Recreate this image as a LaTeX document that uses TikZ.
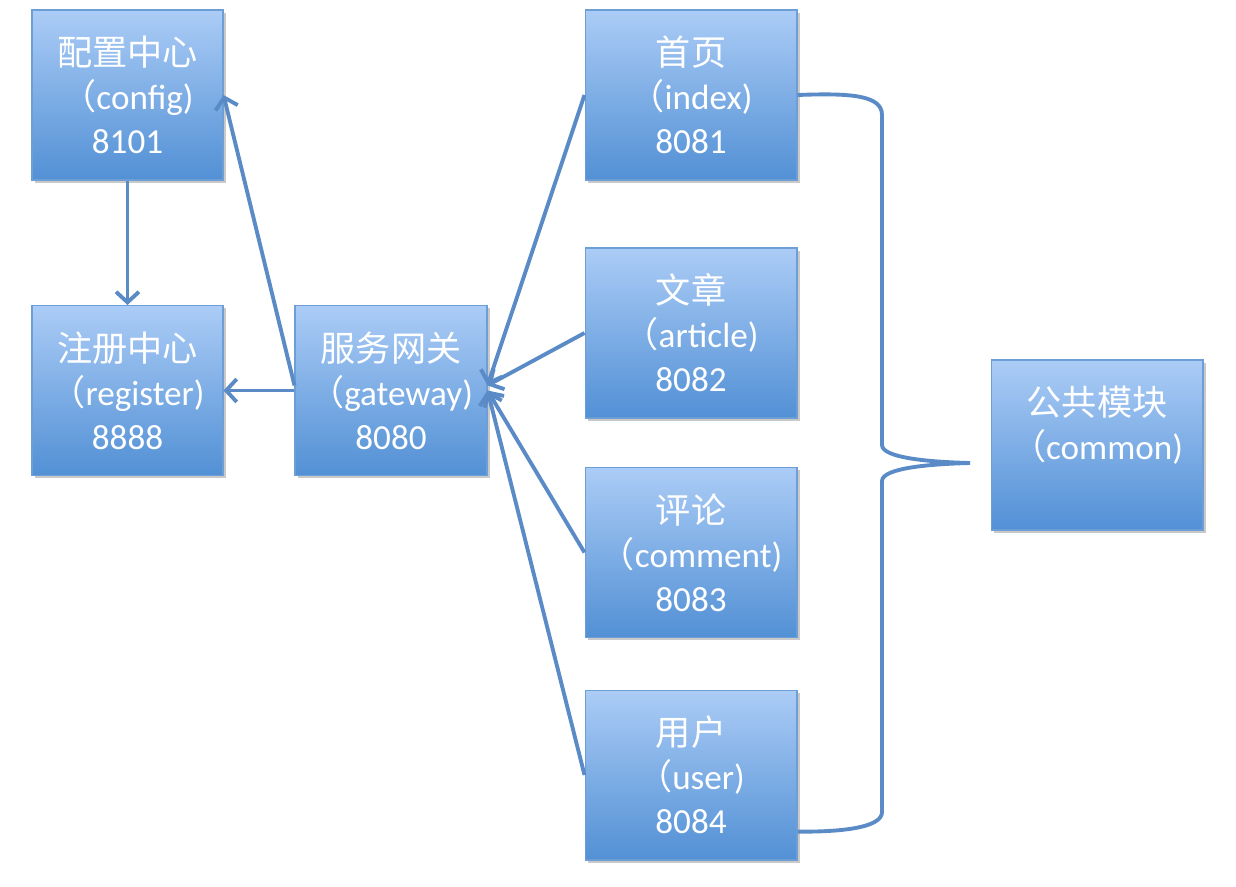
\documentclass[tikz,border=0pt]{standalone}
\usepackage{fontspec}
\setmainfont{Carlito}
\newfontfamily\cjk{Noto Sans CJK SC}
\usetikzlibrary{arrows.meta,shadows}
\definecolor{boxtop}{HTML}{ABCCF6}
\definecolor{boxbot}{HTML}{5290D5}
\definecolor{boxline}{HTML}{6E9ED6}
\definecolor{linkblue}{HTML}{5A8BC6}

\begin{document}
\begin{tikzpicture}[x=.02cm,y=-.02cm,
  box/.style={draw=boxline,line width=.6pt,top color=boxtop,bottom color=boxbot,
    minimum height=3.4cm,inner sep=0pt,text=white,align=center,
    font=\fontsize{20}{25}\selectfont,
    drop shadow={shadow xshift=1.5pt,shadow yshift=-1.5pt,opacity=.3,fill=black!70}},
  link/.style={draw=linkblue,line width=2.2pt,-{Straight Barb[length=6pt,width=13pt]}},
  brace/.style={draw=linkblue,line width=2.2pt}]
  \useasboundingbox (0,0) rectangle (1236,886);
  % left column and gateway
  \node[box,minimum width=3.82cm] (config) at (127.5,95) {{\cjk 配置中心}\\{\cjk （}config)\\8101};
  \node[box,minimum width=3.82cm] (register) at (127.5,390.5) {{\cjk 注册中心}\\{\cjk （}register)\\8888};
  \node[box,minimum width=3.84cm] (gateway) at (391,390.5) {{\cjk 服务网关}\\{\cjk （}gateway)\\8080};
  % services
  \node[box,minimum width=4.24cm] (index) at (691,95) {{\cjk 首页}\\{\cjk （}index)\\8081};
  \node[box,minimum width=4.24cm] (article) at (691,333) {{\cjk 文章}\\{\cjk （}article)\\8082};
  \node[box,minimum width=4.24cm] (comment) at (691,552.5) {{\cjk 评论}\\{\cjk （}comment)\\8083};
  \node[box,minimum width=4.24cm] (user) at (691,775) {{\cjk 用户}\\{\cjk （}user)\\8084};
  \node[box,minimum width=4.24cm] (common) at (1097,445) {{\cjk 公共模块}\\{\cjk （}common)\\\mbox{}};
  % arrows
  \draw[link] (config.south) -- (register.north);
  \draw[link] (gateway.west) -- (register.east);
  \draw[link] (gateway.177) -- (config.east);
  \draw[link] (index.west) -- (gateway.3);
  \draw[link] (article.west) -- (gateway.3);
  \draw[link] (comment.west) -- (gateway.east);
  \draw[link] (user.west) -- (gateway.east);
  % brace to common
  \coordinate (tip) at (970,463);
  \draw[brace] (index.east) .. controls (850,93) and (882,95) .. (882,115) -- (882,445)
    .. controls (882,458) and (930,462) .. (tip)
    .. controls (930,464) and (882,468) .. (882,481) -- (882,812)
    .. controls (882,826) and (850,832) .. (user.-28);
\end{tikzpicture}
\end{document}
